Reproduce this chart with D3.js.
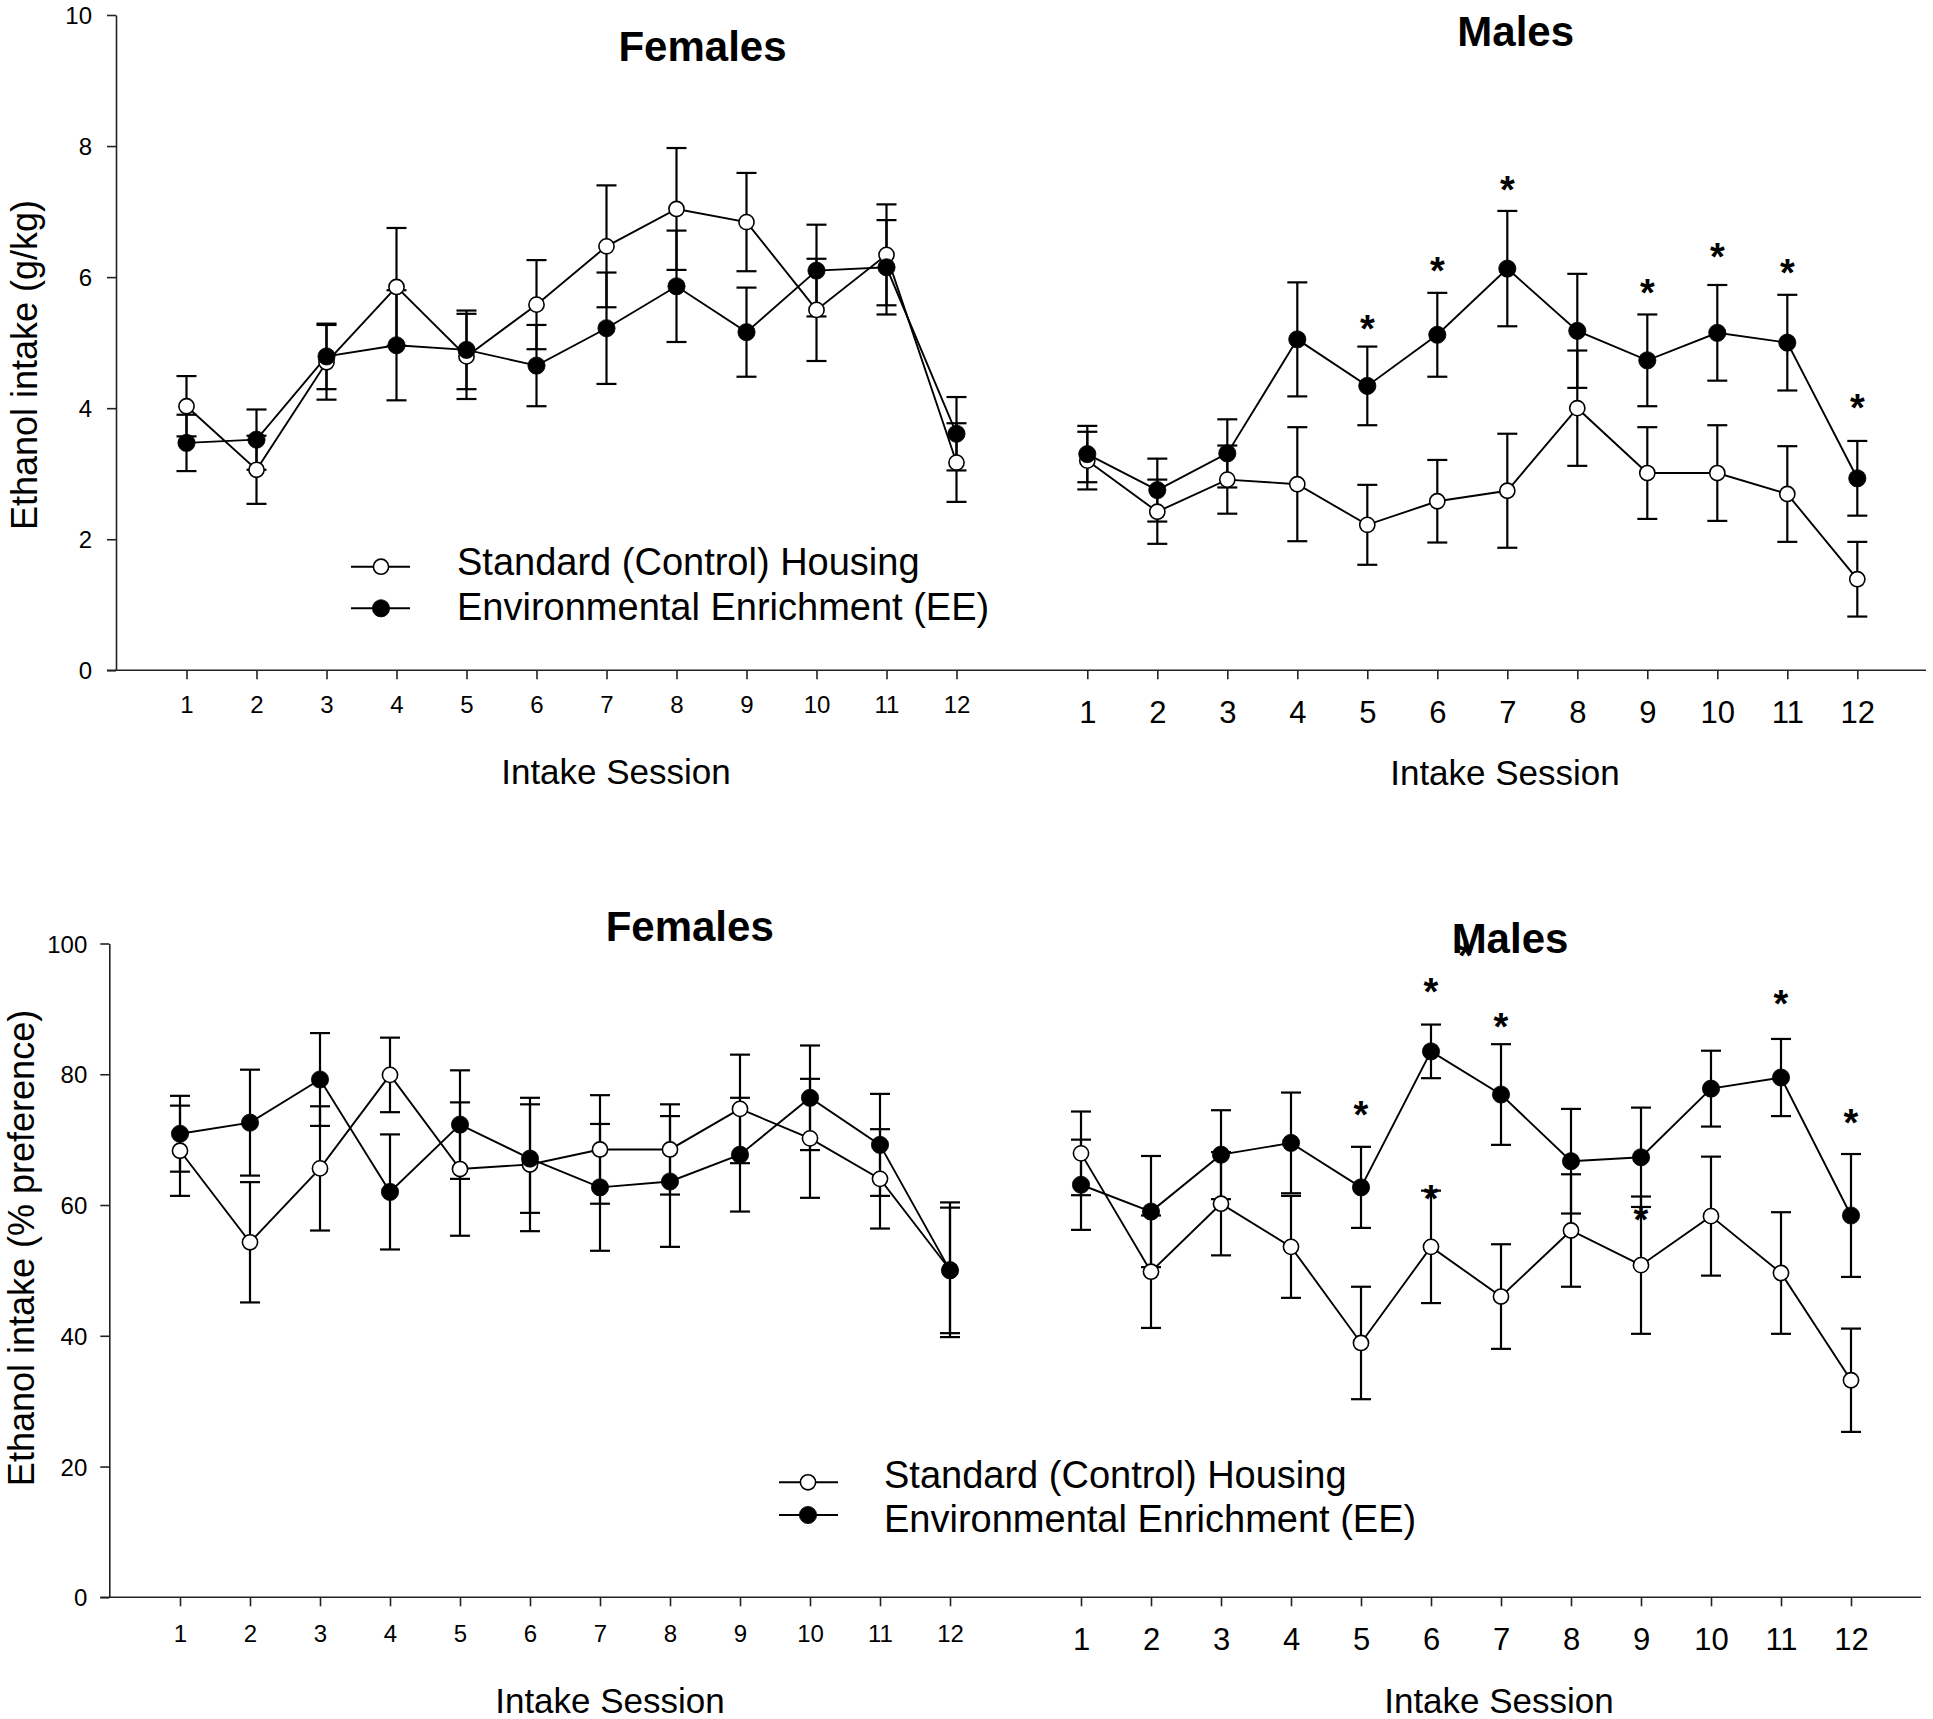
<!DOCTYPE html>
<html>
<head>
<meta charset="utf-8">
<script src="https://cdn.jsdelivr.net/npm/d3@7/dist/d3.min.js"></script>
<style>
  html, body { margin: 0; padding: 0; background: #fff; }
  svg { display: block; }
  text { font-family: "Liberation Sans", Arial, Helvetica, sans-serif; fill: #000; }
</style>
</head>
<body>
<svg id="chart" width="1933" height="1719"></svg>
<script>
// ---------------- DATA ----------------
const sessions = [1, 2, 3, 4, 5, 6, 7, 8, 9, 10, 11, 12];
const seriesNames = ["Standard (Control) Housing", "Environmental Enrichment (EE)"];
const panelTitles = ["Females", "Males"];
const xAxisTitle = "Intake Session";
const yTitleTop = "Ethanol intake (g/kg)";
const yTitleBottom = "Ethanol intake (% preference)";
const yTicksTop = [0, 2, 4, 6, 8, 10];
const yTicksBottom = [0, 20, 40, 60, 80, 100];

// Top: g/kg — Females
const fCtrlTop    = [4.03, 3.06, 4.70, 5.85, 4.79, 5.58, 6.47, 7.04, 6.84, 5.50, 6.34, 3.17];
const fCtrlTopErr = [0.46, 0.52, 0.57, 0.90, 0.65, 0.68, 0.93, 0.93, 0.75, 0.78, 0.77, 0.60];
const fEETop      = [3.47, 3.52, 4.79, 4.96, 4.89, 4.65, 5.22, 5.86, 5.16, 6.10, 6.15, 3.61];
const fEETopErr   = [0.43, 0.46, 0.50, 0.84, 0.60, 0.62, 0.85, 0.85, 0.68, 0.70, 0.72, 0.56];
// Top: g/kg — Males
const mCtrlTop    = [3.20, 2.42, 2.91, 2.84, 2.22, 2.58, 2.74, 4.00, 3.01, 3.01, 2.69, 1.39];
const mCtrlTopErr = [0.44, 0.49, 0.52, 0.87, 0.61, 0.63, 0.87, 0.88, 0.70, 0.73, 0.73, 0.57];
const mEETop      = [3.30, 2.75, 3.31, 5.05, 4.34, 5.12, 6.13, 5.18, 4.73, 5.15, 5.00, 2.93];
const mEETopErr   = [0.43, 0.48, 0.52, 0.87, 0.60, 0.64, 0.88, 0.87, 0.70, 0.73, 0.73, 0.57];
const mStarsTop   = [[5, 5.34], [6, 6.22], [7, 7.46], [9, 5.89], [10, 6.44], [11, 6.20], [12, 4.14]];

// Bottom: % preference — Females
const fCtrlBot    = [68.3, 54.3, 65.6, 79.9, 65.5, 66.2, 68.5, 68.5, 74.7, 70.2, 64.0, 50.1];
const fCtrlBotErr = [6.9, 9.2, 9.5, 5.7, 10.2, 10.2, 8.3, 6.9, 8.3, 9.1, 7.6, 10.3];
const fEEBot      = [70.9, 72.6, 79.2, 62.0, 72.3, 67.1, 62.7, 63.6, 67.7, 76.4, 69.2, 50.0];
const fEEBotErr   = [5.8, 8.1, 7.1, 8.8, 8.3, 8.3, 9.7, 10.0, 8.7, 8.0, 7.8, 9.6];
// Bottom: % preference — Males
const mCtrlBot    = [67.9, 49.8, 60.2, 53.6, 38.9, 53.6, 46.0, 56.1, 50.8, 58.3, 49.6, 33.2];
const mCtrlBotErr = [6.4, 8.6, 7.9, 7.8, 8.6, 8.6, 8.0, 8.6, 10.5, 9.1, 9.3, 7.9];
const mEEBot      = [63.1, 59.0, 67.7, 69.5, 62.7, 83.5, 76.9, 66.7, 67.3, 77.8, 79.5, 58.4];
const mEEBotErr   = [6.9, 8.5, 6.8, 7.7, 6.2, 4.1, 7.7, 8.0, 7.6, 5.8, 5.9, 9.4];
const mStarsBot   = [[5, 75.1], [6, 93.9], [7, 88.6], [11, 92.0], [12, 73.8], [6, 62.3], [9, 59.0], [6.49, 99.4]];

// ---------------- LAYOUT ----------------
const svg = d3.select("#chart");
svg.append("rect").attr("width", 1933).attr("height", 1719).attr("fill", "#fff");

const FONT_AX = 35, FONT_Y = 36, FONT_TITLE = 42, FONT_LEG = 38;

const panels = [
  {
    yDomain: [0, 10], yRange: [670.3, 15], yTicks: yTicksTop, yAxisX: 116, yLabPad: 15,
    xEnd: 1926, fX1: 186.5, mX1: 1087.3, fLabOff: 43, mLabOff: 52.4,
    fTitle: [702.5, 60.5], mTitle: [1515.7, 45.7],
    fXT: [616, 783.5], mXT: [1505, 785],
    yT: [36.5, 365], yTitle: yTitleTop,
    f: [[fCtrlTop, fCtrlTopErr], [fEETop, fEETopErr]],
    m: [[mCtrlTop, mCtrlTopErr], [mEETop, mEETopErr]],
    stars: mStarsTop,
    legend: { lx1: 351, lx2: 410, mx: 381, my: [566.7, 608.3], tx: 457, ty: [575, 620] }
  },
  {
    yDomain: [0, 100], yRange: [1597.3, 943.5], yTicks: yTicksBottom, yAxisX: 109.3, yLabPad: 13,
    xEnd: 1921, fX1: 180, mX1: 1081, fLabOff: 44.4, mLabOff: 52.9,
    fTitle: [689.7, 941], mTitle: [1510, 952.5],
    fXT: [610, 1712.5], mXT: [1499, 1713],
    yT: [33.5, 1248], yTitle: yTitleBottom,
    f: [[fCtrlBot, fCtrlBotErr], [fEEBot, fEEBotErr]],
    m: [[mCtrlBot, mCtrlBotErr], [mEEBot, mEEBotErr]],
    stars: mStarsBot,
    legend: { lx1: 779, lx2: 838, mx: 808, my: [1482.3, 1515], tx: 884, ty: [1488.3, 1531.7] }
  }
];

const SPACING = 70.0;
const CAP = 10;
const R_OPEN = 7.6, R_FILL = 8.6;

function drawSeries(g, x, y, vals, errs, filled) {
  const pts = sessions.map((s, i) => ({ s, v: vals[i], e: errs[i] }));
  return pts;
}

panels.forEach(p => {
  const g = svg.append("g");
  const y = d3.scaleLinear().domain(p.yDomain).range(p.yRange);
  const xF = d3.scaleLinear().domain([1, 12]).range([p.fX1, p.fX1 + 11 * SPACING]);
  const xM = d3.scaleLinear().domain([1, 12]).range([p.mX1, p.mX1 + 11 * SPACING]);
  const axisY = y(0);

  // x axis base line
  g.append("line")
    .attr("x1", p.yAxisX - 9).attr("x2", p.xEnd)
    .attr("y1", axisY).attr("y2", axisY)
    .attr("stroke", "#222").attr("stroke-width", 1.6);

  // y axis
  const ya = g.append("g").attr("transform", `translate(${p.yAxisX},0)`)
    .call(d3.axisLeft(y).tickValues(p.yTicks).tickSize(9).tickSizeOuter(0).tickPadding(p.yLabPad));
  ya.select(".domain").attr("stroke", "#222").attr("stroke-width", 1.6);
  ya.selectAll(".tick line").attr("stroke", "#222").attr("stroke-width", 1.6);
  ya.selectAll(".tick text").attr("font-size", 24).attr("dy", "0.36em")
    .attr("font-family", '"Liberation Sans", Arial, sans-serif').attr("fill", "#000");

  // x axes (female + male)
  [[xF, 24, p.fLabOff], [xM, 31, p.mLabOff]].forEach(([xs, fs, off]) => {
    const xa = g.append("g").attr("transform", `translate(0,${axisY})`)
      .call(d3.axisBottom(xs).tickValues(sessions).tickSize(9).tickSizeOuter(0).tickFormat(d3.format("d")));
    xa.select(".domain").remove();
    xa.selectAll(".tick line").attr("stroke", "#222").attr("stroke-width", 1.6);
    xa.selectAll(".tick text").attr("font-size", fs).attr("y", off).attr("dy", null)
      .attr("font-family", '"Liberation Sans", Arial, sans-serif').attr("fill", "#000");
  });

  // titles
  g.append("text").attr("x", p.fTitle[0]).attr("y", p.fTitle[1]).attr("text-anchor", "middle")
    .attr("font-size", FONT_TITLE).attr("font-weight", "bold").text(panelTitles[0]);
  g.append("text").attr("x", p.mTitle[0]).attr("y", p.mTitle[1]).attr("text-anchor", "middle")
    .attr("font-size", FONT_TITLE).attr("font-weight", "bold").text(panelTitles[1]);

  // axis titles
  g.append("text").attr("x", p.fXT[0]).attr("y", p.fXT[1]).attr("text-anchor", "middle")
    .attr("font-size", FONT_AX).text(xAxisTitle);
  g.append("text").attr("x", p.mXT[0]).attr("y", p.mXT[1]).attr("text-anchor", "middle")
    .attr("font-size", FONT_AX).text(xAxisTitle);
  g.append("text").attr("transform", `translate(${p.yT[0]},${p.yT[1]}) rotate(-90)`)
    .attr("text-anchor", "middle").attr("font-size", FONT_Y).text(p.yTitle);

  // data
  [[xF, p.f], [xM, p.m]].forEach(([xs, series]) => {
    const data = series.map(([vals, errs]) => sessions.map((s, i) => ({ s, v: vals[i], e: errs[i] })));
    const eg = g.append("g");
    data.forEach(pts => {
      pts.forEach(d => {
        const cx = xs(d.s), yt = y(d.v + d.e), yb = y(d.v - d.e);
        eg.append("line").attr("x1", cx).attr("x2", cx).attr("y1", yt).attr("y2", yb)
          .attr("stroke", "#000").attr("stroke-width", 2.2);
        [yt, yb].forEach(yy => eg.append("line").attr("x1", cx - CAP).attr("x2", cx + CAP)
          .attr("y1", yy).attr("y2", yy).attr("stroke", "#000").attr("stroke-width", 2.2));
      });
    });
    const line = d3.line().x(d => xs(d.s)).y(d => y(d.v));
    data.forEach(pts => {
      g.append("path").datum(pts).attr("d", line).attr("fill", "none")
        .attr("stroke", "#000").attr("stroke-width", 1.9);
    });
    data.forEach((pts, k) => {
      g.selectAll(null).data(pts).enter().append("circle")
        .attr("cx", d => xs(d.s)).attr("cy", d => y(d.v))
        .attr("r", k === 0 ? R_OPEN : R_FILL)
        .attr("fill", k === 0 ? "#fff" : "#000")
        .attr("stroke", "#000").attr("stroke-width", k === 0 ? 1.6 : 0.8);
    });
  });

  // significance asterisks (males)
  g.selectAll(null).data(p.stars).enter().append("text")
    .attr("x", d => xM(d[0])).attr("y", d => y(d[1]) + 0.57 * 38)
    .attr("text-anchor", "middle").attr("font-size", 38).attr("font-weight", "bold").text("*");

  // legend
  const L = p.legend;
  [0, 1].forEach(k => {
    g.append("line").attr("x1", L.lx1).attr("x2", L.lx2).attr("y1", L.my[k]).attr("y2", L.my[k])
      .attr("stroke", "#000").attr("stroke-width", 1.9);
    g.append("circle").attr("cx", L.mx).attr("cy", L.my[k])
      .attr("r", k === 0 ? R_OPEN : R_FILL)
      .attr("fill", k === 0 ? "#fff" : "#000").attr("stroke", "#000")
      .attr("stroke-width", k === 0 ? 1.6 : 0.8);
    g.append("text").attr("x", L.tx).attr("y", L.ty[k]).attr("font-size", FONT_LEG).text(seriesNames[k]);
  });
});
</script>
</body>
</html>
